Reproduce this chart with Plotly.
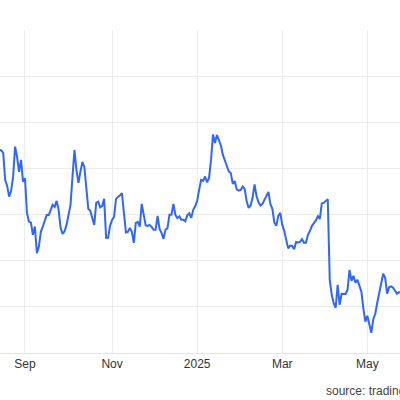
import pandas as pd
import plotly.graph_objects as go

# daily closes (one per weekday)
start_date = "2024-08-14"
prices = [
    77.00, 76.95, 76.68, 73.75, 73.10, 71.95, 72.57, 74.08, 77.36, 76.25,
    74.62, 75.92, 73.57, 73.94, 70.18, 69.24, 69.13, 67.80, 68.70, 65.82,
    66.50, 68.13, 68.70, 69.32, 69.97, 69.93, 70.51, 71.05, 70.83, 71.48,
    70.51, 68.56, 67.91, 68.18, 68.88, 69.97, 71.05, 74.08, 77.00, 74.84,
    73.43, 74.62, 75.70, 75.16, 72.67, 70.62, 70.40, 69.64, 68.88, 71.27,
    71.40, 70.78, 70.94, 71.70, 67.48, 67.48, 68.78, 69.43, 69.75, 71.70,
    71.86, 72.10, 72.30, 69.97, 68.07, 68.13, 68.56, 68.13, 66.94, 69.10,
    69.21, 68.70, 71.16, 69.97, 68.83, 68.78, 68.88, 68.67, 68.35, 68.35,
    69.86, 68.45, 68.02, 67.37, 68.35, 68.53, 69.97, 69.97, 71.16, 69.97,
    69.61, 69.81, 69.43, 69.43, 69.26, 69.91, 70.13, 69.64, 70.51, 70.89,
    71.48, 72.67, 73.75, 73.64, 74.13, 73.48, 73.97, 75.92, 78.68, 77.76,
    78.62, 78.08, 77.49, 76.46, 75.81, 75.38, 74.67, 74.51, 73.32, 73.64,
    72.73, 72.60, 72.67, 73.05, 72.78, 71.48, 70.72, 70.99, 71.81, 73.27,
    72.02, 71.32, 70.99, 71.16, 71.59, 71.91, 72.46, 71.16, 70.62, 69.15,
    68.78, 69.86, 70.18, 68.88, 68.24, 67.26, 66.34, 66.61, 66.61, 66.23,
    67.04, 66.99, 67.04, 67.34, 66.94, 66.97, 67.80, 68.24, 68.78, 69.07,
    69.37, 69.83, 69.53, 71.21, 71.27, 71.48, 71.65, 62.93, 61.31, 60.39,
    59.90, 62.39, 60.23, 61.42, 61.42, 61.39, 61.85, 64.01, 62.82, 63.36,
    62.61, 62.93, 62.28, 61.63, 59.79, 58.39, 59.04, 57.95, 57.19, 58.66,
    59.25, 60.44, 61.52, 62.82, 63.58, 63.15, 61.42, 62.14, 62.21, 62.07,
    61.74, 61.42, 61.58, 61.63,
]
dates = pd.bdate_range(start_date, periods=len(prices))

tick_dates = ["2024-09-02", "2024-11-01", "2025-01-01", "2025-03-03", "2025-05-01"]
tick_labels = ["Sep", "Nov", "2025", "Mar", "May"]

fig = go.Figure()
fig.add_trace(go.Scatter(x=dates, y=prices, mode="lines",
                         line=dict(color="#2f66ff", width=2), hoverinfo="skip"))

fig.update_layout(
    width=400, height=400,
    margin=dict(l=0, r=0, t=30, b=47),
    paper_bgcolor="white", plot_bgcolor="white",
    showlegend=False,
    font=dict(family="Liberation Sans, Arial, sans-serif", size=12, color="#333333"),
)
fig.update_xaxes(
    range=["2024-08-14 09:00", "2025-05-23 12:00"],
    rangebreaks=[dict(bounds=["sat", "mon"])],
    tickvals=tick_dates, ticktext=tick_labels,
    showgrid=True, gridcolor="#ececec", gridwidth=1,
    showline=True, linecolor="#e6e6e6", linewidth=1,
    ticks="", zeroline=False,
)
fig.update_yaxes(
    range=[55, 90], dtick=5, tick0=55,
    showgrid=True, gridcolor="#ececec", gridwidth=1,
    showticklabels=False, zeroline=False, showline=False,
)
fig.add_annotation(text="source: tradingeconomics.com", xref="paper", yref="paper",
                   x=0.81, y=-0.117, xanchor="left", yanchor="middle",
                   showarrow=False, font=dict(size=12, color="#444444"))

# page body has an 8px default margin; drop it so the chart sits at the corner
fig.write_html("out.html", config={"displayModeBar": False},
               post_script="document.body.style.margin='0px';")
